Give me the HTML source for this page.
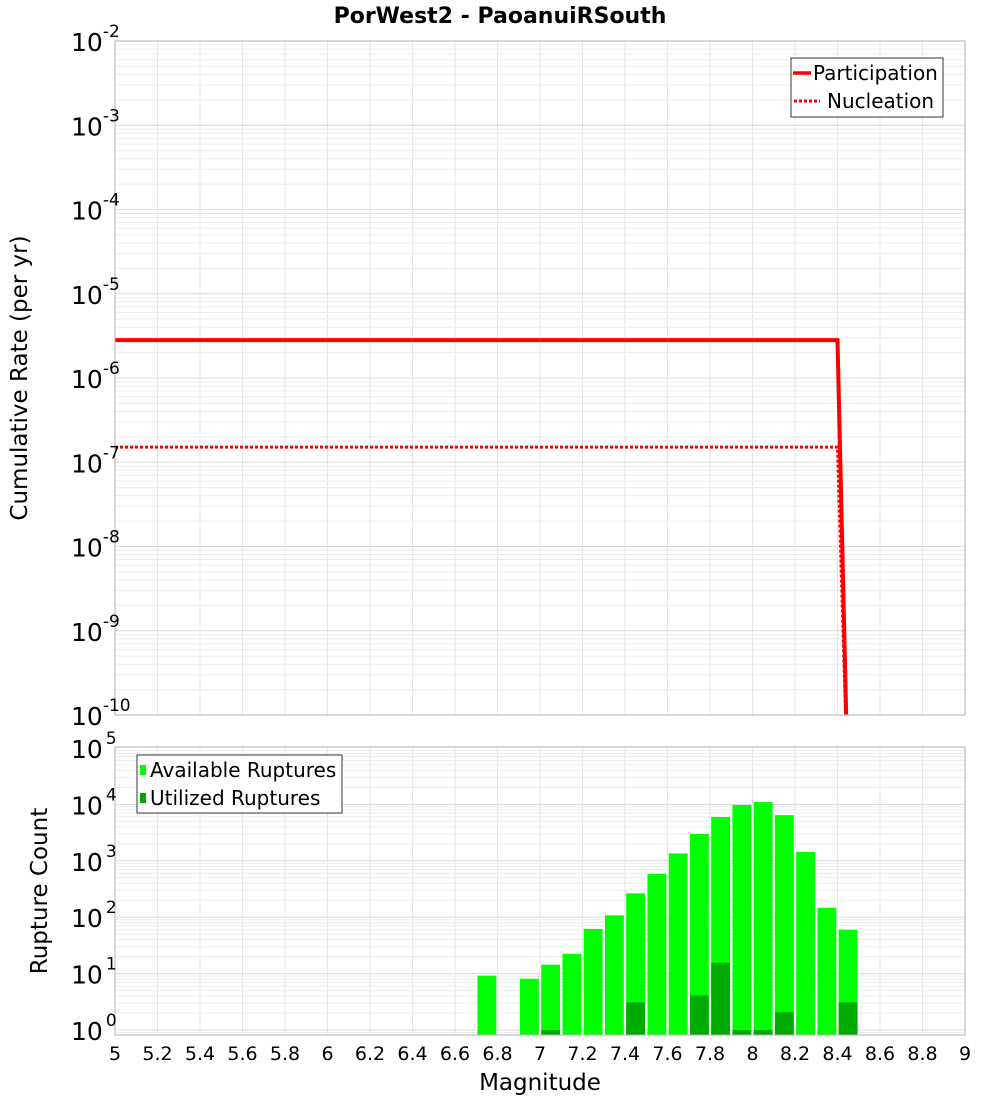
<!DOCTYPE html>
<html><head><meta charset="utf-8"><style>
body{margin:0;background:#fff;}
svg{display:block;font-family:"DejaVu Sans","Liberation Sans",sans-serif;}
</style></head><body>
<svg id="chart" width="1000" height="1100" viewBox="0 0 1000 1100">
<defs>
<clipPath id="topClip"><rect x="115" y="41" width="850" height="674"/></clipPath>
<clipPath id="botClip"><rect x="115" y="747" width="850" height="288"/></clipPath>
</defs>
<text x="500" y="23" text-anchor="middle" font-size="22" font-weight="bold">PorWest2 - PaoanuiRSouth</text>
<g id="topGrid"></g><g id="botGrid"></g>
<g id="topMarks" clip-path="url(#topClip)"></g>
<g id="botMarks" clip-path="url(#botClip)"></g>
<rect x="115" y="41" width="850" height="674" fill="none" stroke="#b0b0b0"/>
<rect x="115" y="747" width="850" height="288" fill="none" stroke="#b0b0b0"/>
<g id="topTicks"></g><g id="botTicks"></g><g id="xTicks"></g>
<text transform="translate(27,378) rotate(-90)" text-anchor="middle" font-size="23">Cumulative Rate (per yr)</text>
<text transform="translate(47,891) rotate(-90)" text-anchor="middle" font-size="23">Rupture Count</text>
<text x="540" y="1090" text-anchor="middle" font-size="23">Magnitude</text>
<g>
<rect x="791" y="58" width="152" height="59" fill="#fff" stroke="#333"/>
<line x1="793" y1="73" x2="811" y2="73" stroke="#f00" stroke-width="3.5"/>
<text x="813" y="80" font-size="20">Participation</text>
<line x1="794" y1="101" x2="820" y2="101" stroke="#f00" stroke-width="3" stroke-dasharray="3,2"/>
<text x="827" y="108" font-size="20">Nucleation</text>
</g>
<g>
<rect x="137" y="755" width="205" height="58" fill="#fff" stroke="#333"/>
<rect x="140" y="765" width="6" height="10" fill="#00ff00"/>
<text x="150" y="777" font-size="20">Available Ruptures</text>
<rect x="140" y="793" width="6" height="10" fill="#00aa00"/>
<text x="150" y="805" font-size="20">Utilized Ruptures</text>
</g>
</svg>
<script>
const partMags=[5.0,8.4,8.45];
const partRates=[2.82e-6,2.82e-6,1e-11];
const nuclMags=[5.0,8.4,8.45];
const nuclRates=[1.51e-7,1.51e-7,1e-11];
const barMags=[6.75,6.95,7.05,7.15,7.25,7.35,7.45,7.55,7.65,7.75,7.85,7.95,8.05,8.15,8.25,8.35,8.45];
const availCounts=[9.2,8.1,14.4,22.5,62,108,265,584,1350,2990,5970,9770,11000,6460,1430,147,60];
const utilCounts=[0,0,1,0,0,0,3.1,0,0,4.1,15.6,1,1,2.06,0,0,3.1];
const xTickLabels=["5","5.2","5.4","5.6","5.8","6","6.2","6.4","6.6","6.8","7","7.2","7.4","7.6","7.8","8","8.2","8.4","8.6","8.8","9"];
const topExps=[-2,-3,-4,-5,-6,-7,-8,-9,-10];
const botExps=[5,4,3,2,1,0];

const NS="http://www.w3.org/2000/svg";
const X=m=>115+(m-5)*212.5;
const YT=v=>41+(-2-Math.log10(v))*84.25;
const YB=v=>1030-56.4*Math.log10(v);
function mk(tag,attrs,parent){const e=document.createElementNS(NS,tag);for(const k in attrs)e.setAttribute(k,attrs[k]);parent.appendChild(e);return e;}
const tg=document.getElementById('topGrid'),bg=document.getElementById('botGrid');
xTickLabels.forEach(t=>{const x=X(parseFloat(t));
 let l=mk('line',{x1:x,x2:x,y1:41,y2:715,stroke:'#e6e6e6'},tg);
 
 l=mk('line',{x1:x,x2:x,y1:747,y2:1035,stroke:'#e6e6e6'},bg);
 
});
for(let e=-10;e<-2;e++)for(let k=1;k<10;k++){const y=YT(k*Math.pow(10,e));
 const l=mk('line',{x1:115,x2:965,y1:y,y2:y,stroke:k==1?'#dcdcdc':'#ececec'},tg);
 }
for(let e=-1;e<5;e++)for(let k=1;k<10;k++){const y=YB(k*Math.pow(10,e));if(y>1035||y<747)continue;
 const l=mk('line',{x1:115,x2:965,y1:y,y2:y,stroke:k==1?'#dcdcdc':'#ececec'},bg);
 }
const tm=document.getElementById('topMarks');
let p=mk('polyline',{points:partMags.map((m,i)=>X(m)+','+YT(partRates[i])).join(' '),fill:'none',stroke:'#f00','stroke-width':4},tm);

p=mk('polyline',{points:nuclMags.map((m,i)=>X(m)+','+YT(nuclRates[i])).join(' '),fill:'none',stroke:'#f00','stroke-width':3,'stroke-dasharray':'3,2'},tm);

const bm=document.getElementById('botMarks');
barMags.forEach((m,i)=>{const x0=X(m-0.05)+1.2,w=212.5*0.1-2.4;
 if(availCounts[i]>0){const y=YB(availCounts[i]);
  const r=mk('rect',{x:x0,y:y,width:w,height:1035-y,fill:'#00ff00'},bm);
  }
 if(utilCounts[i]>0){const y=YB(utilCounts[i]);
  const r=mk('rect',{x:x0,y:y,width:w,height:1035-y,fill:'#00aa00'},bm);
  }
});
const tt=document.getElementById('topTicks');
topExps.forEach(e=>{const y=YT(Math.pow(10,e));
 const t=mk('text',{x:71,y:y+10,'font-size':25},tt);
 
 t.textContent='10';
 const s=mk('tspan',{dy:-14,'font-size':17},t);s.textContent=String(e);});
const bt=document.getElementById('botTicks');
botExps.forEach(e=>{const y=YB(Math.pow(10,e));
 const t=mk('text',{x:71,y:y+10,'font-size':25},bt);
 
 t.textContent='10';
 const s=mk('tspan',{dx:3,dy:-14,'font-size':17},t);s.textContent=String(e);});
const xt=document.getElementById('xTicks');
xTickLabels.forEach(l=>{const t=mk('text',{x:X(parseFloat(l)),y:1060,'text-anchor':'middle','font-size':19},xt);
 t.textContent=l;});
</script>
</body></html>
